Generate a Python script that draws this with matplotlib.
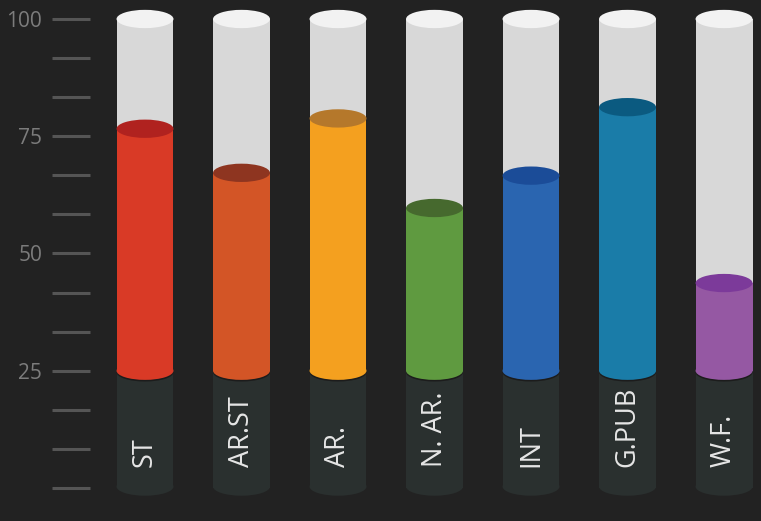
import matplotlib.pyplot as plt
from matplotlib.patches import Rectangle, Ellipse

categories = ["ST", "AR.ST", "AR.", "N. AR.", "INT", "G.PUB", "W.F."]
values = [76.6, 67.2, 78.8, 59.7, 66.6, 81.2, 43.7]
body_colors = ["#d93a26", "#d35526", "#f4a01f", "#5f9a40", "#2a65b0", "#1a7ca8", "#9558a3"]
cap_colors = ["#b0221f", "#8e3520", "#b5782b", "#46692e", "#1b4c98", "#0b5a80", "#7c3a9a"]
major_ticks = [25, 50, 75, 100]
minor_ticks = [0, 8.33, 16.67, 33.33, 41.67, 58.33, 66.67, 83.33, 91.67]

BG = "#222222"
base = 25
top = 100
w = 0.59
eh = 3.9

plt.rcParams["font.family"] = ["Open Sans", "DejaVu Sans"]
fig = plt.figure(figsize=(7.61, 5.21), dpi=100, facecolor=BG)
ax = fig.add_axes([90 / 761, 0, 671 / 761, 1])
ax.set_facecolor(BG)
ax.set_xlim(-0.570, 6.383)
ax.set_ylim(-7.04, 104.05)

for i, (cat, v, bc, cc) in enumerate(zip(categories, values, body_colors, cap_colors)):
    x0 = i - w / 2
    # dark base with rounded bottom
    ax.add_patch(Rectangle((x0, 0), w, base, color="#2a302f", lw=0, zorder=1))
    ax.add_patch(Ellipse((i, 0.3), w, eh, color="#2a302f", lw=0, zorder=1))
    # empty glass
    ax.add_patch(Rectangle((x0, base), w, top - base, color="#d8d8d8", lw=0, zorder=2))
    ax.add_patch(Ellipse((i, top), w, eh, color="#f2f2f2", lw=0, zorder=2))
    # liquid
    ax.add_patch(Ellipse((i, base - 0.35), w, eh, color="#1c1c1c", lw=0, zorder=3))
    ax.add_patch(Ellipse((i, base), w, eh, color=bc, lw=0, zorder=3))
    ax.add_patch(Rectangle((x0, base), w, v - base, color=bc, lw=0, zorder=3))
    ax.add_patch(Ellipse((i, v), w, eh, color=cc, lw=0, zorder=4))
    ax.text(i, 4.5, cat, rotation=90, ha="center", va="bottom",
            color="#e6e6e6", fontsize=19.5, zorder=5)

ax.set_yticks(major_ticks)
ax.set_yticklabels([str(t) for t in major_ticks])
ax.set_yticks(minor_ticks, minor=True)
ax.tick_params(axis="y", which="both", length=27.4, width=2.2, color="#555555",
               direction="out", pad=7)
ax.tick_params(axis="y", which="major", labelsize=15, labelcolor="#7c7c7c")
ax.set_xticks([])
for s in ax.spines.values():
    s.set_visible(False)

fig.savefig("out.png", dpi=100, facecolor=BG)
